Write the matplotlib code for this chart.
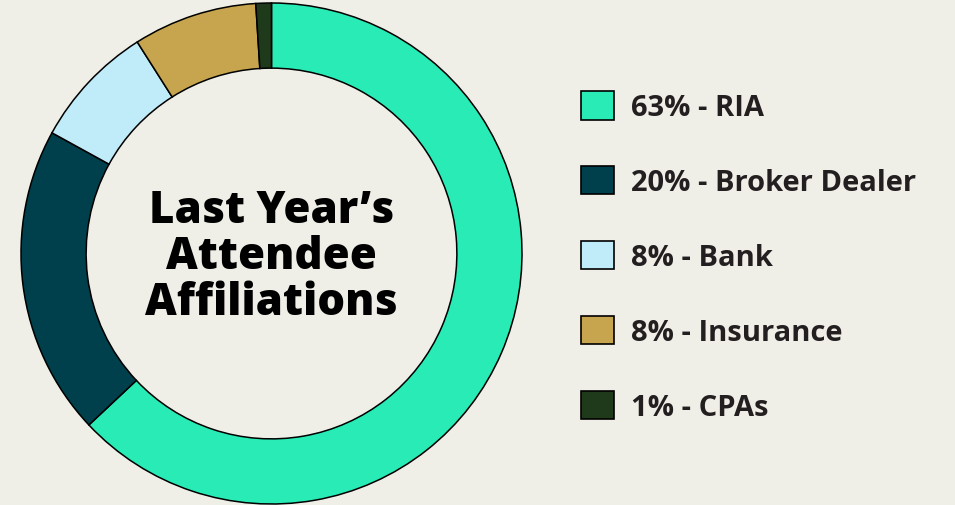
import matplotlib.pyplot as plt
from matplotlib.patches import Patch

categories = ["RIA", "Broker Dealer", "Bank", "Insurance", "CPAs"]
shares = [63, 20, 8, 8, 1]
colors = ["#28ebb6", "#003f4c", "#c0ecfa", "#c6a54e", "#1e3a1b"]
title = "Last Year\u2019s\nAttendee\nAffiliations"

bg = "#efeee7"
W, H = 955, 506
fig = plt.figure(figsize=(W / 100, H / 100), dpi=100)
fig.patch.set_facecolor(bg)

# donut axes, centre (271.5, 254.5) px, outer radius 250.5 px
half = 253
ax = fig.add_axes([(271.5 - half) / W, (H - 254.5 - half) / H, 2 * half / W, 2 * half / H])
ax.set_facecolor(bg)
ax.pie(
    shares,
    colors=colors,
    startangle=90,
    counterclock=False,
    radius=1,
    wedgeprops=dict(width=0.26, edgecolor="black", linewidth=1.1),
)
lim = half / 250.5
ax.set_xlim(-lim, lim)
ax.set_ylim(-lim, lim)
ax.set_aspect("equal")
ax.axis("off")

ax.text(
    0, -0.012, title,
    ha="center", va="center",
    fontsize=31.5, fontweight=800, family="Open Sans",
    color="black", linespacing=1.02,
)

fs = 21
handles = [Patch(facecolor=c, edgecolor="black", linewidth=1.2) for c in colors]
labels = [f"{s}% - {c}" for s, c in zip(shares, categories)]
leg = fig.legend(
    handles, labels,
    loc="upper left",
    bbox_to_anchor=(581 / W, 1 - 92 / H),
    frameon=False,
    handlelength=1.13,
    handleheight=1.13,
    handletextpad=0.6,
    labelspacing=1.5,
    borderpad=0,
    borderaxespad=0,
    prop=dict(family="Open Sans", weight="bold", size=fs),
)
for t in leg.get_texts():
    t.set_color("#231f20")

fig.savefig("out.png", dpi=100, facecolor=bg)
